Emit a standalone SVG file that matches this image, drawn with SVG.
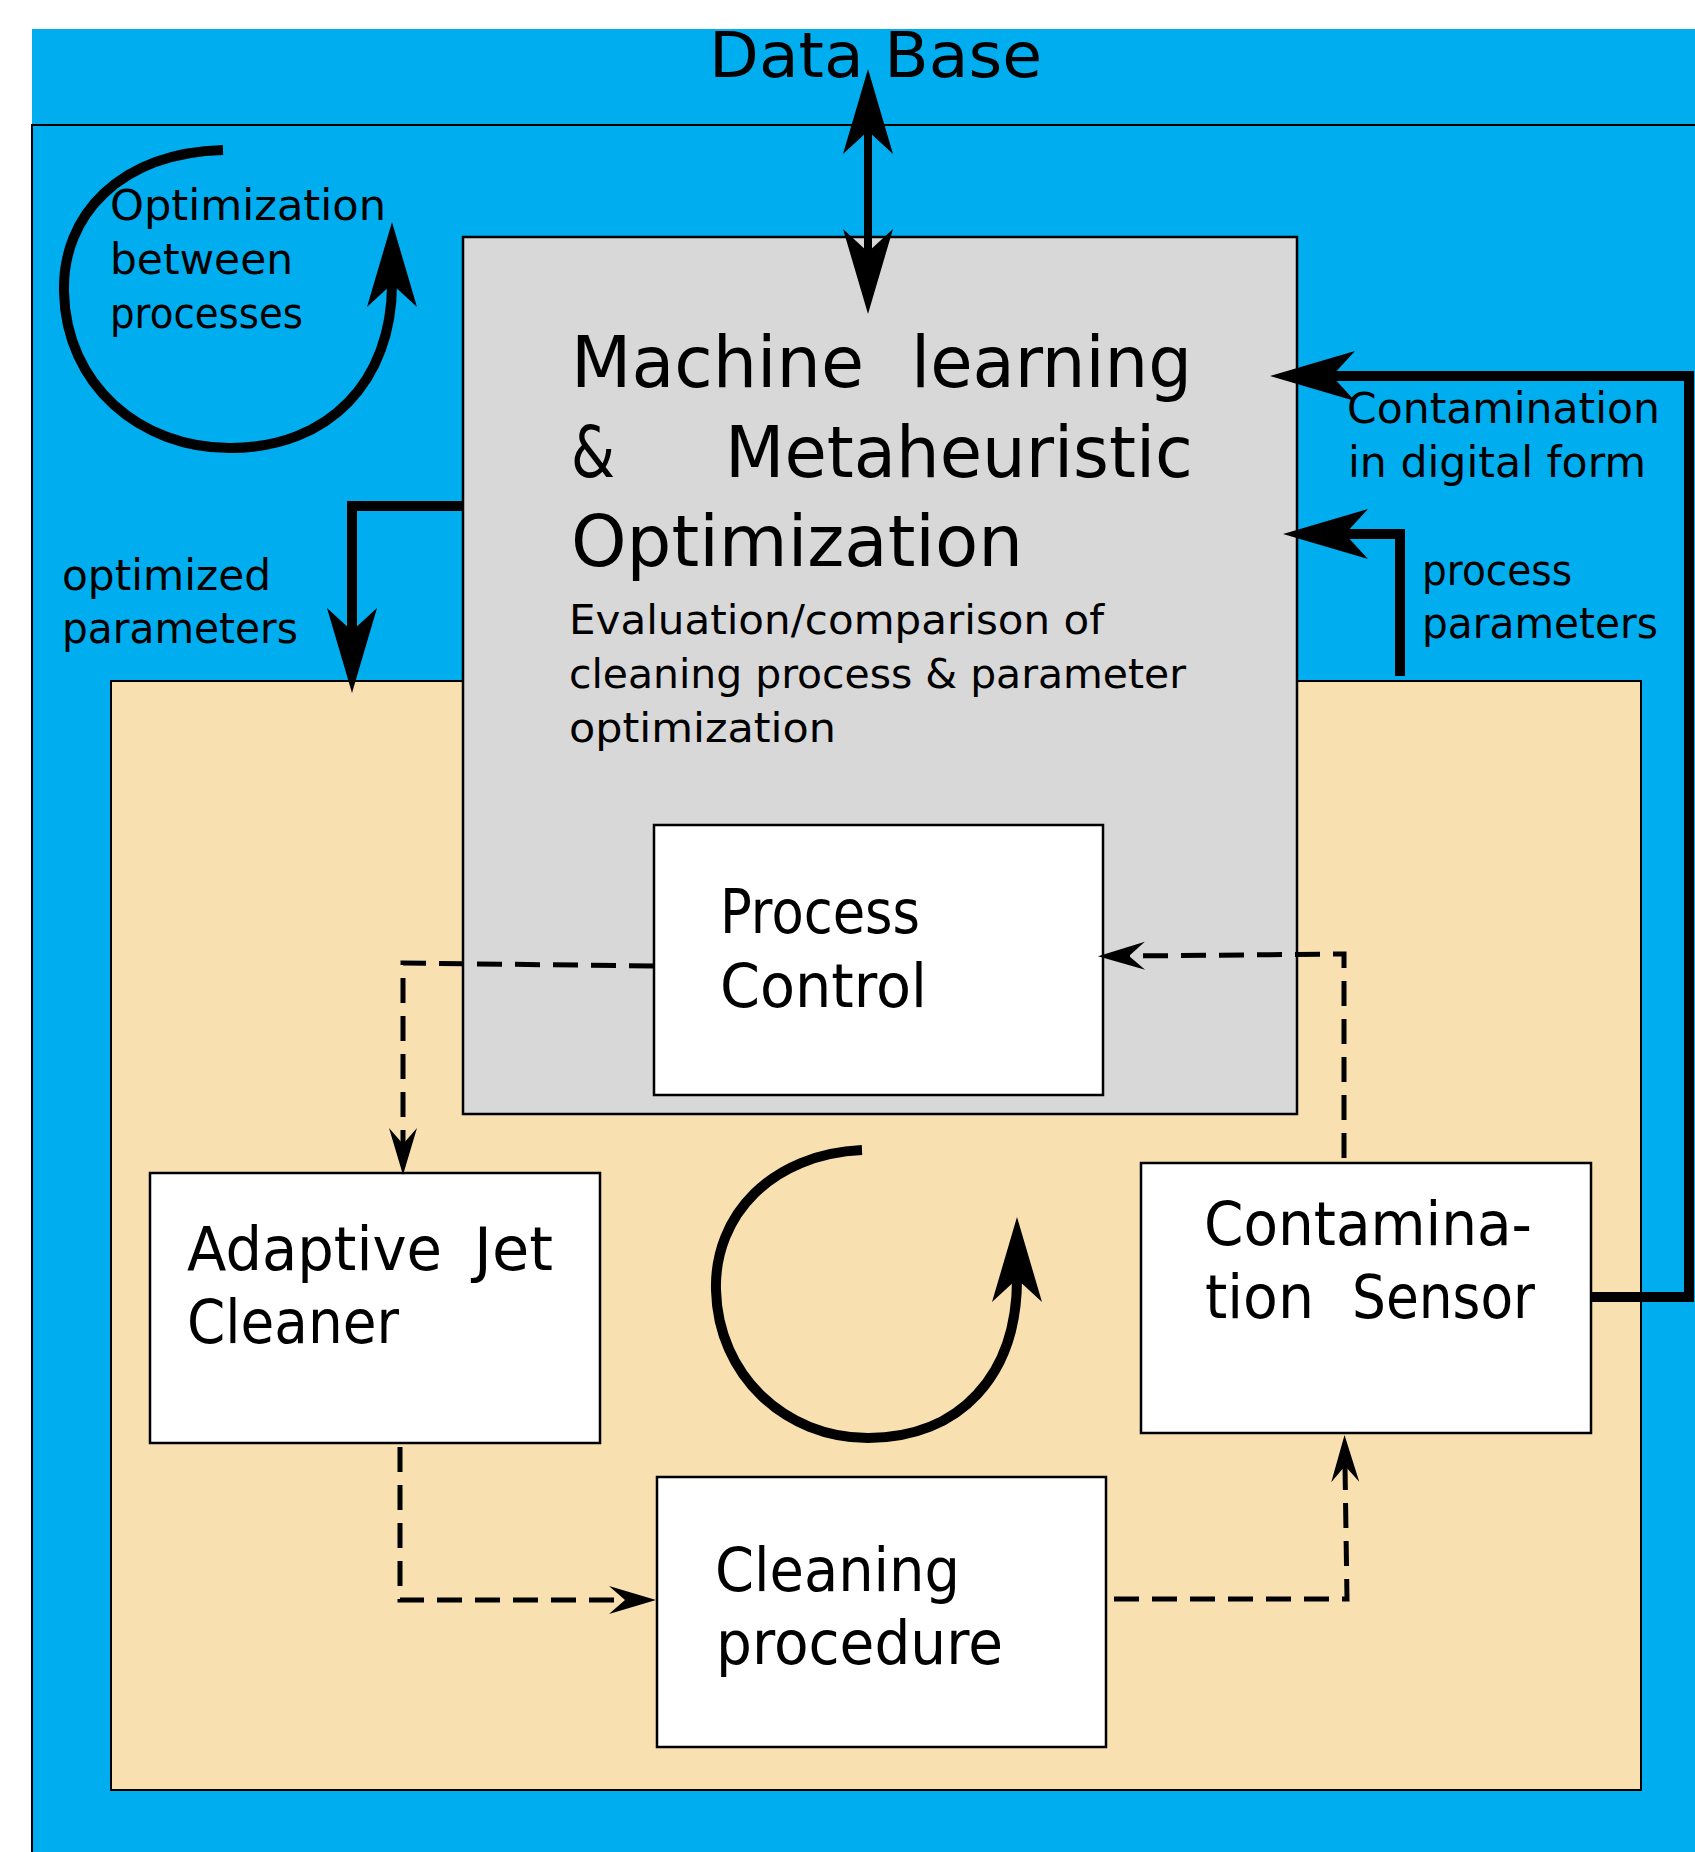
<svg xmlns="http://www.w3.org/2000/svg" width="1695" height="1852" viewBox="0 0 1695 1852">
  <style>
    text { font-family: "DejaVu Sans", "Noto Sans", sans-serif; fill: #000; }
    .box { stroke: #000; stroke-width: 2.5; }
    .white { fill: #fff; }
    .t60 { font-size: 60px; }
    .t42 { font-size: 42px; }
    .t72 { font-size: 72px; }
    .t41 { font-size: 41px; }
    .thick { fill: none; stroke: #000; stroke-width: 10; stroke-linejoin: miter; marker-end: url(#head); }
    .dash { fill: none; stroke: #000; stroke-width: 5; stroke-dasharray: 25 13; marker-end: url(#thin); }
  </style>
  <defs>
    <!-- stealth arrowhead: origin sits at the notch, tip points along +x -->
    <marker id="head" markerUnits="userSpaceOnUse" viewBox="-24 -26 88 52" markerWidth="88" markerHeight="52" refX="0" refY="0" orient="auto-start-reverse">
      <path d="M62,0 L-23,-25 L0,0 L-23,25 Z" fill="#000"/>
    </marker>
    <marker id="thin" markerUnits="userSpaceOnUse" viewBox="-17 -15 50 30" markerWidth="50" markerHeight="30" refX="0" refY="0" orient="auto">
      <path d="M31,0 L-16,-14 L0,0 L-16,14 Z" fill="#000"/>
    </marker>
  </defs>

  <!-- background panels -->
  <rect x="0" y="0" width="1695" height="1852" fill="#fff"/>
  <rect x="32" y="29" width="1663" height="96" fill="#00aeef"/>
  <rect x="32" y="125" width="1690" height="1760" fill="#00aeef" stroke="#000" stroke-width="2"/>
  <text x="709" y="77" font-size="62" textLength="333" lengthAdjust="spacingAndGlyphs">Data Base</text>

  <g id="process-zone">
    <rect x="111" y="681" width="1530" height="1109" fill="#f9e0b1" stroke="#000" stroke-width="2"/>
  </g>

  <g id="ml-optimization">
    <rect class="box" x="463" y="237" width="834" height="877" fill="#d8d8d8"/>
    <text class="t72" x="571" y="387" textLength="293" lengthAdjust="spacingAndGlyphs">Machine</text>
    <text class="t72" x="911" y="387" textLength="281" lengthAdjust="spacingAndGlyphs">learning</text>
    <text class="t72" x="571" y="477" textLength="44" lengthAdjust="spacingAndGlyphs">&amp;</text>
    <text class="t72" x="725" y="477" textLength="468" lengthAdjust="spacingAndGlyphs">Metaheuristic</text>
    <text class="t72" x="571" y="566" textLength="452" lengthAdjust="spacingAndGlyphs">Optimization</text>
    <text class="t41" x="569" y="634" textLength="535" lengthAdjust="spacingAndGlyphs">Evaluation/comparison of</text>
    <text class="t41" x="569" y="688" textLength="617" lengthAdjust="spacingAndGlyphs">cleaning process &amp; parameter</text>
    <text class="t41" x="569" y="742" textLength="267" lengthAdjust="spacingAndGlyphs">optimization</text>
  </g>

  <g id="process-control">
    <rect class="box white" x="654" y="825" width="449" height="270"/>
    <text class="t60" x="720" y="933" textLength="200" lengthAdjust="spacingAndGlyphs">Process</text>
    <text class="t60" x="720" y="1007" textLength="207" lengthAdjust="spacingAndGlyphs">Control</text>
  </g>

  <g id="adaptive-jet-cleaner">
    <rect class="box white" x="150" y="1173" width="450" height="270"/>
    <text class="t60" x="187" y="1270" textLength="255" lengthAdjust="spacingAndGlyphs">Adaptive</text>
    <text class="t60" x="474" y="1270" textLength="79" lengthAdjust="spacingAndGlyphs">Jet</text>
    <text class="t60" x="187" y="1343" textLength="212" lengthAdjust="spacingAndGlyphs">Cleaner</text>
  </g>

  <g id="cleaning-procedure">
    <rect class="box white" x="657" y="1477" width="449" height="270"/>
    <text class="t60" x="715" y="1591" textLength="245" lengthAdjust="spacingAndGlyphs">Cleaning</text>
    <text class="t60" x="716" y="1664" textLength="287" lengthAdjust="spacingAndGlyphs">procedure</text>
  </g>

  <g id="contamination-sensor">
    <rect class="box white" x="1141" y="1163" width="450" height="270"/>
    <text class="t60" x="1204" y="1245" textLength="328" lengthAdjust="spacingAndGlyphs">Contamina-</text>
    <text class="t60" x="1205" y="1318" textLength="109" lengthAdjust="spacingAndGlyphs">tion</text>
    <text class="t60" x="1352" y="1318" textLength="183" lengthAdjust="spacingAndGlyphs">Sensor</text>
  </g>

  <g id="connectors">
    <!-- database link, both directions -->
    <path d="M868,131 V252" fill="none" stroke="#000" stroke-width="8" marker-start="url(#head)" marker-end="url(#head)"/>
    <!-- optimized parameters -->
    <path class="thick" d="M463,506 H352 V631"/>
    <!-- contamination in digital form -->
    <path class="thick" d="M1591,1297 H1689 V376 H1332"/>
    <!-- process parameters -->
    <path class="thick" d="M1400,676 V534 H1345"/>
    <!-- optimization loop between processes -->
    <path class="thick" d="M223,150 C120,153 62,215 64,292 C66,385 140,448 230,448 C330,448 392,380 392,284"/>
    <!-- inner control loop -->
    <path class="thick" d="M862,1150 C772,1154 714,1215 716,1290 C718,1375 785,1438 868,1438 C960,1438 1017,1375 1017,1279"/>
    <!-- signal flow -->
    <path class="dash" d="M654,966 L403,963 V1144"/>
    <path class="dash" d="M400,1447 V1600 H625"/>
    <path class="dash" d="M1114,1599 H1347 L1345,1466"/>
    <path class="dash" d="M1344,1158 V954 L1129,956"/>
  </g>

  <g id="labels">
    <text class="t42" x="110" y="220" textLength="276" lengthAdjust="spacingAndGlyphs">Optimization</text>
    <text class="t42" x="110" y="274" textLength="183" lengthAdjust="spacingAndGlyphs">between</text>
    <text class="t42" x="110" y="328" textLength="193" lengthAdjust="spacingAndGlyphs">processes</text>
    <text class="t42" x="62" y="590" textLength="209" lengthAdjust="spacingAndGlyphs">optimized</text>
    <text class="t42" x="62" y="643" textLength="236" lengthAdjust="spacingAndGlyphs">parameters</text>
    <text class="t42" x="1347" y="423" textLength="313" lengthAdjust="spacingAndGlyphs">Contamination</text>
    <text class="t42" x="1348" y="477" textLength="298" lengthAdjust="spacingAndGlyphs">in digital form</text>
    <text class="t42" x="1422" y="585" textLength="150" lengthAdjust="spacingAndGlyphs">process</text>
    <text class="t42" x="1422" y="638" textLength="236" lengthAdjust="spacingAndGlyphs">parameters</text>
  </g>
</svg>
